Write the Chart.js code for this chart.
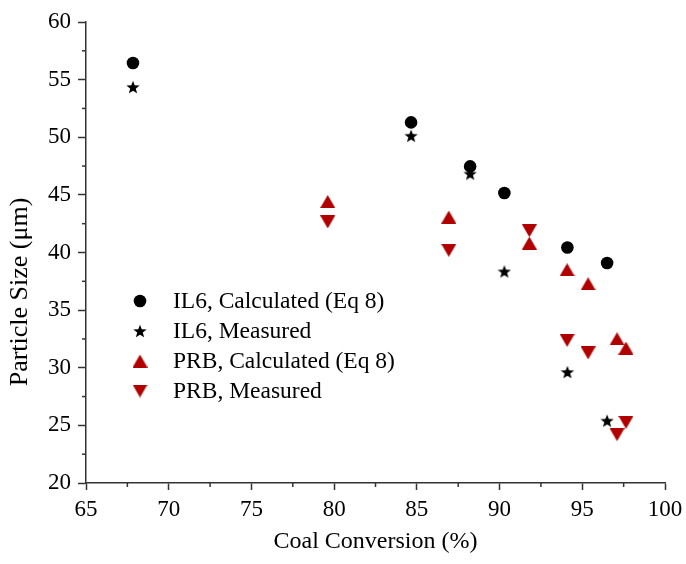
<!DOCTYPE html>
<html><head><meta charset="utf-8">
<script src="https://cdn.jsdelivr.net/npm/chart.js@4.4.0/dist/chart.umd.min.js"></script>
<style>html,body{margin:0;padding:0;background:#fff}canvas{display:block}</style>
</head><body>
<canvas id="c" width="686" height="564"></canvas>
<script>
// ---- data ----
const il6X     = [67.84, 84.65, 88.22, 90.29, 94.10, 96.50];
const il6Calc  = [56.44, 51.29, 47.47, 45.16, 40.44, 39.09];
const il6Meas  = [54.36, 50.13, 46.84, 38.36, 29.63, 25.41];
const prbX     = [79.61, 86.93, 91.80, 94.08, 95.35, 97.10, 97.64];
const prbCalc  = [44.43, 43.08, 40.82, 38.51, 37.29, 32.52, 31.71];
const prbMeas  = [42.65, 40.18, 41.89, 32.37, 31.28, 24.19, 25.26];
const seriesNames = ['IL6, Calculated (Eq 8)', 'IL6, Measured', 'PRB, Calculated (Eq 8)', 'PRB, Measured'];
const xRange = [65, 100], xStep = 5;
const yRange = [20, 60], yStep = 5;
const xTitle = 'Coal Conversion (%)';
const yTitle = 'Particle Size (\u03bcm)';

const RED = '#b00000';
const FONT = "'Liberation Serif', 'Times New Roman', serif";

function makeStar(size, color) {
  const c = document.createElement('canvas');
  c.width = size; c.height = size;
  const g = c.getContext('2d');
  const cx = size / 2, cy = size / 2 + size * 0.05, R = size / 2, r = R * 0.42;
  g.beginPath();
  for (let i = 0; i < 10; i++) {
    const a = -Math.PI / 2 + i * Math.PI / 5;
    const rr = i % 2 === 0 ? R : r;
    g.lineTo(cx + rr * Math.cos(a), cy + rr * Math.sin(a));
  }
  g.closePath();
  g.fillStyle = color; g.fill();
  return c;
}
function makeTri(w, h, up, color) {
  const c = document.createElement('canvas');
  c.width = w; c.height = h;
  const g = c.getContext('2d');
  g.beginPath();
  if (up) { g.moveTo(w / 2, 0); g.lineTo(w, h); g.lineTo(0, h); }
  else { g.moveTo(0, 0); g.lineTo(w, 0); g.lineTo(w / 2, h); }
  g.closePath();
  g.fillStyle = color; g.fill();
  return c;
}
const starImg = makeStar(14, '#000');
const upImg = makeTri(15, 13, true, RED);
const downImg = makeTri(15, 13, false, RED);

function pts(xs, ys) { return xs.map((x, i) => ({ x: x, y: ys[i] })); }

const datasets = [
  { label: seriesNames[0], data: pts(il6X, il6Calc), pointStyle: 'circle', pointRadius: 6.3, backgroundColor: '#000', borderColor: '#000', borderWidth: 0 },
  { label: seriesNames[1], data: pts(il6X, il6Meas), pointStyle: starImg, pointRadius: 7, backgroundColor: '#000', borderColor: '#000' },
  { label: seriesNames[2], data: pts(prbX, prbCalc), pointStyle: upImg, pointRadius: 7, backgroundColor: RED, borderColor: RED },
  { label: seriesNames[3], data: pts(prbX, prbMeas), pointStyle: downImg, pointRadius: 7, backgroundColor: RED, borderColor: RED }
];

const minorTicks = {
  id: 'minorTicks',
  beforeDatasetsDraw(chart) {
    const ctx = chart.ctx, xs = chart.scales.x, ys = chart.scales.y;
    ctx.save();
    ctx.strokeStyle = '#333'; ctx.lineWidth = 1.5;
    for (let v = xRange[0] + xStep / 2; v < xRange[1]; v += xStep) {
      const px = xs.getPixelForValue(v);
      ctx.beginPath(); ctx.moveTo(px, ys.bottom); ctx.lineTo(px, ys.bottom + 4); ctx.stroke();
    }
    for (let v = yRange[0] + yStep / 2; v < yRange[1]; v += yStep) {
      const py = ys.getPixelForValue(v);
      ctx.beginPath(); ctx.moveTo(xs.left, py); ctx.lineTo(xs.left - 4, py); ctx.stroke();
    }
    ctx.restore();
  }
};

const yAxisTitle = {
  id: 'yAxisTitle',
  afterDraw(chart) {
    const ctx = chart.ctx, area = chart.chartArea;
    ctx.save();
    ctx.font = '26px ' + FONT;
    ctx.fillStyle = '#000';
    ctx.textAlign = 'center';
    ctx.textBaseline = 'middle';
    ctx.translate(20, area.top + 270);
    ctx.rotate(-Math.PI / 2);
    ctx.fillText(yTitle, 0, 0);
    ctx.restore();
  }
};

const customLegend = {
  id: 'customLegend',
  afterDatasetsDraw(chart) {
    const ctx = chart.ctx;
    const area = chart.chartArea;
    const mx = area.left + 54, tx = area.left + 87;
    const y0 = area.top + 279, dy = 30;
    ctx.save();
    ctx.font = '23.5px ' + FONT;
    ctx.fillStyle = '#000';
    ctx.textBaseline = 'middle';
    chart.data.datasets.forEach((ds, i) => {
      const y = y0 + i * dy;
      if (ds.pointStyle === 'circle') {
        ctx.beginPath(); ctx.arc(mx, y, 6.3, 0, Math.PI * 2); ctx.fillStyle = ds.backgroundColor; ctx.fill();
      } else {
        const img = ds.pointStyle;
        ctx.drawImage(img, mx - img.width / 2, y - img.height / 2);
      }
      ctx.fillStyle = '#000';
      ctx.fillText(ds.label, tx, y + 1);
    });
    ctx.restore();
  }
};

new Chart(document.getElementById('c'), {
  type: 'scatter',
  data: { datasets: datasets },
  options: {
    responsive: false,
    animation: false,
    devicePixelRatio: 1,
    layout: { padding: { left: 0, right: 21, top: 22, bottom: 0 } },
    plugins: { legend: { display: false }, tooltip: { enabled: false } },
    scales: {
      x: {
        type: 'linear', min: xRange[0], max: xRange[1],
        ticks: { stepSize: xStep, color: '#000', font: { family: FONT, size: 23 }, padding: 6, maxRotation: 0 },
        grid: { drawOnChartArea: false, drawTicks: true, tickLength: 7, tickColor: '#333', tickWidth: 1.5 },
        border: { display: true, color: '#333', width: 1.5 },
        title: { display: true, text: xTitle, color: '#000', font: { family: FONT, size: 24 }, padding: { top: 4, bottom: 8 } },
        afterFit(s) { s.height = 81; s.paddingLeft = 0; s.paddingRight = 0; }
      },
      y: {
        type: 'linear', min: yRange[0], max: yRange[1],
        ticks: { stepSize: yStep, color: '#000', font: { family: FONT, size: 23 }, padding: 7 },
        grid: { drawOnChartArea: false, drawTicks: true, tickLength: 8, tickColor: '#333', tickWidth: 1.5 },
        border: { display: true, color: '#333', width: 1.5 },
        title: { display: false },
        afterFit(s) { s.width = 86; s.paddingTop = 0; s.paddingBottom = 0; }
      }
    }
  },
  plugins: [minorTicks, customLegend, yAxisTitle]
});
</script>
</body></html>
